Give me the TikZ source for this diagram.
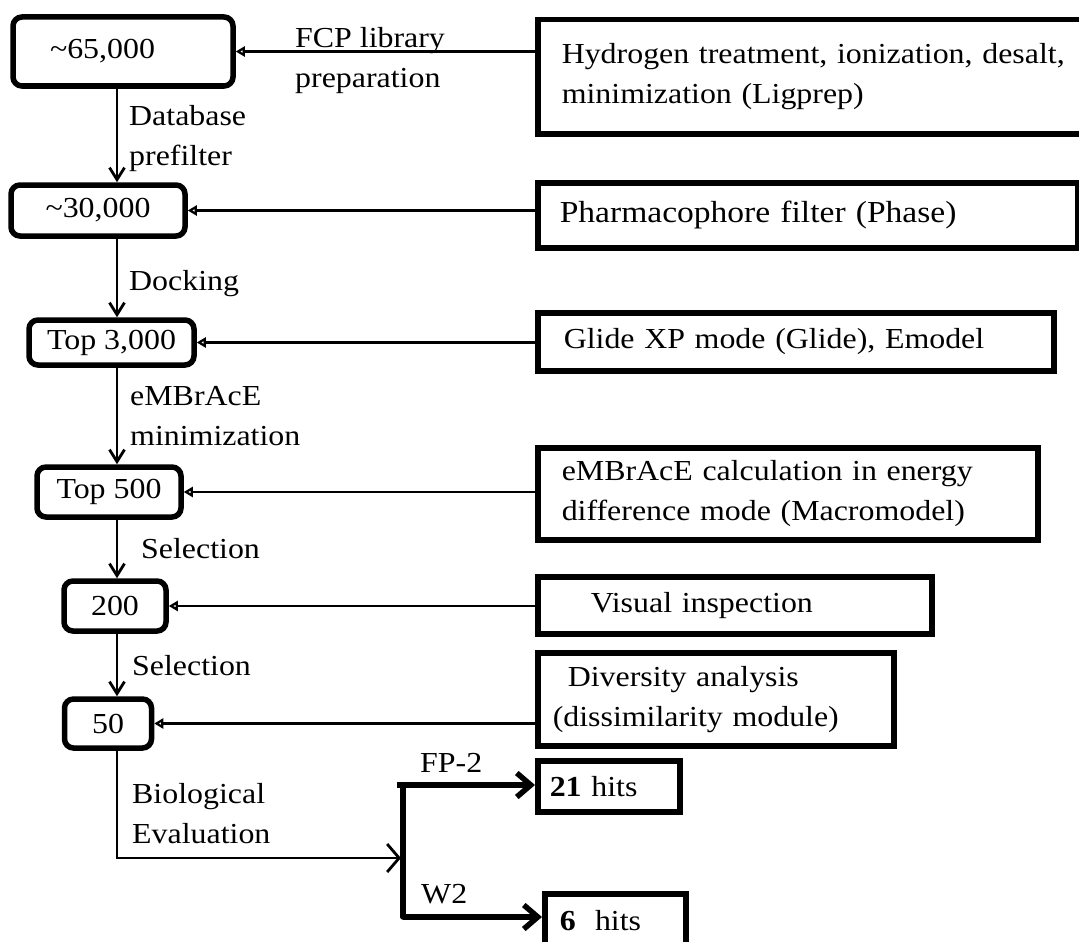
\documentclass[tikz,border=0pt]{standalone}
\usepackage{fontspec}
\setmainfont{Liberation Serif}[FakeStretch=1.10]
\usetikzlibrary{arrows.meta,positioning}
\newcommand\fsz{\fontsize{29}{40}\selectfont}
\tikzset{
  cnt-box/.style={draw, line width=5.5pt, rounded corners=9pt,
    inner sep=0pt, font=\fsz},
  tool-box/.style={draw, line width=5.5pt, anchor=north west,
    align=left, inner ysep=0pt, font=\fsz},
  flow-lbl/.style={anchor=base west, inner sep=0pt, align=left, font=\fsz},
  vflow/.style={line width=2.8pt, -{Straight Barb[length=12pt,width=15pt]}},
  feed/.style={line width=2.6pt, -{Triangle[open,length=9pt,width=10pt]}},
  hit/.style={line width=5.5pt, -{Straight Barb[length=14pt,width=24pt]}}
}
\begin{document}
\begin{tikzpicture}[x=1pt, y=-1pt]
\useasboundingbox (0,0) rectangle (1079,942);
\fill[white] (0,0) rectangle (1079,942);
% compound counts
\node[cnt-box, minimum height=69pt, align=left, text width=146pt, inner xsep=37pt] (b65) at (123,51.5) {\textasciitilde65,000};
\node[cnt-box, minimum width=174pt, minimum height=51pt] (b30) at (98,210.5) {\textasciitilde30,000};
\node[cnt-box, minimum width=165pt, minimum height=45pt] (b3000) at (111.5,342.5) {Top 3,000};
\node[cnt-box, minimum width=144pt, minimum height=50pt] (b500) at (109,492) {Top 500};
\node[cnt-box, minimum width=102pt, minimum height=50pt] (b200) at (115,606) {200};
\node[cnt-box, minimum width=87pt, minimum height=49pt] (b50) at (108,723.5) {50};
% tools
\node[tool-box, text width=520pt, inner xsep=24pt, minimum height=114pt] (hyd) at (535,17)
  {Hydrogen treatment, ionization, desalt,\\minimization (Ligprep)};
\node[tool-box, text width=496pt, inner xsep=22pt, minimum height=65pt, font=\fontsize{30.5}{40}\selectfont] (pharm) at (535,180)
  {Pharmacophore filter (Phase)};
\node[tool-box, text width=464pt, inner xsep=26pt, minimum height=58pt] (glide) at (535,310)
  {Glide XP mode (Glide), Emodel};
\node[tool-box, text width=452pt, inner xsep=24pt, minimum height=92pt] (emb) at (535,445)
  {eMBrAcE calculation in energy\\difference mode (Macromodel)};
\node[tool-box, text width=288pt, inner xsep=53pt, minimum height=57pt] (vis) at (535,574)
  {Visual inspection};
\node[tool-box, text width=326pt, inner xsep=15pt, minimum height=93pt] (div) at (535,650)
  {\hspace*{15pt}Diversity analysis\\(dissimilarity module)};
\node[tool-box, text width=118pt, inner xsep=12pt, minimum height=51pt] (h21) at (535,758)
  {\textbf{21} hits};
\node[tool-box, text width=111pt, inner xsep=15pt, minimum height=54pt] (h6) at (542,891)
  {\textbf{6}\ \ hits};
% flow
\coordinate (spine) at (117,0);
\foreach \a/\b in {b65/b30, b30/b3000, b3000/b500, b500/b200, b200/b50}
  \draw[vflow] (\a.south -| spine) -- (\b.north -| spine);
\foreach \t/\c in {hyd/b65, pharm/b30, glide/b3000, emb/b500, vis/b200, div/b50}
  \draw[feed] (\t.west |- \c.east) -- (\c.east);
% step labels (base = last line)
\node[flow-lbl] (lfcp) at (295,88) {FCP library\\preparation};
\node[flow-lbl] (ldb) at (129,165) {Database\\prefilter};
\node[flow-lbl] (ldock) at (129,290) {Docking};
\node[flow-lbl] (lemb) at (130,445) {eMBrAcE\\minimization};
\node[flow-lbl] (lsel1) at (141,558) {Selection};
\node[flow-lbl] (lsel2) at (132,675) {Selection};
\node[flow-lbl] (lbio) at (132,843) {Biological\\Evaluation};
% biological evaluation
\coordinate (jin) at (401,858);
\coordinate (jtop) at (403,785);
\coordinate (jbot) at (403,917);
\draw[vflow, -{Straight Barb[length=12pt,width=28pt]}] (b50.south -| spine) |- (jin);
\draw[line width=5.5pt, line cap=round] (jtop) -- (jbot);
\draw[hit] ([xshift=-6pt]jtop) -- (h21.west |- jtop);
\draw[hit] (jbot) -- (h6.west |- jbot);
\node[flow-lbl] (lfp) at (420,772) {FP-2};
\node[flow-lbl] (lw2) at (421,903) {W2};
\end{tikzpicture}
\end{document}
